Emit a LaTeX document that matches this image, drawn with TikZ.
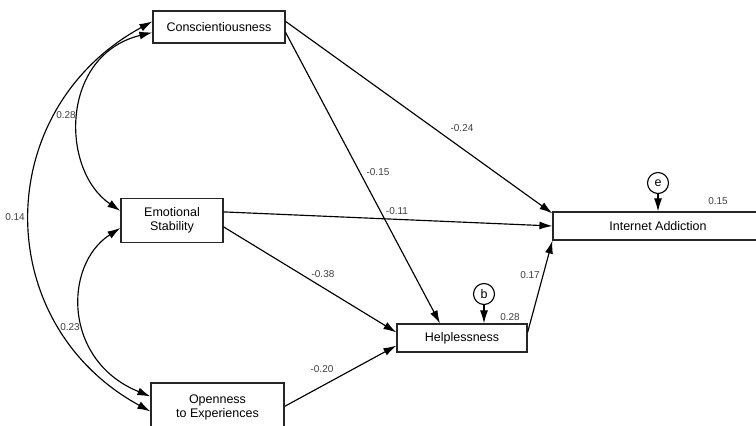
\documentclass[tikz,border=0pt]{standalone}
\usepackage{fontspec}
\setmainfont{Liberation Sans}
\usetikzlibrary{arrows.meta}
\begin{document}
\begin{tikzpicture}[x=1pt,y=1pt,
  box/.style={draw=black!85, line width=1.2pt, fill=white, inner sep=0pt, font=\fontsize{12.5}{14}\selectfont, align=center},
  err/.style={draw, circle, line width=1.1pt, minimum size=21pt, inner sep=0pt, fill=white, font=\fontsize{12.5}{14}\selectfont},
  arr/.style={line width=1.15pt, -{Latex[length=13pt,width=8pt]}},
  dbl/.style={line width=1.15pt, {Latex[length=13pt,width=8pt]}-{Latex[length=13pt,width=8pt]}},
  lab/.style={font=\fontsize{10}{11}\selectfont, text=black!75, inner sep=0pt}]
\useasboundingbox (0,0) rectangle (756,-426);
\clip (0,0) rectangle (756,-426);
\fill[white] (0,0) rectangle (756,-426);

% boxes
\node[box, minimum width=132pt, minimum height=32pt] (C) at (219,-27) {Conscientiousness};
\node[box, minimum width=102pt, minimum height=44pt] (E) at (172,-220.5) {Emotional\\Stability};
\node[box, minimum width=133pt, minimum height=48pt] (O) at (217.5,-407) {Openness\\to Experiences};
\node[box, minimum width=130pt, minimum height=28pt] (H) at (462,-338) {Helplessness};
\node[box, minimum width=210pt, minimum height=28pt] (IA) at (658,-226) {Internet Addiction};
\node[err] (e) at (658,-183) {e};
\node[err] (b) at (484,-294) {b};

% directed paths
\draw[arr] ([yshift=-11pt]C.north east) -- ([yshift=-2pt]IA.north west);
\draw[arr] ([yshift=-22pt]C.north east) -- ([xshift=-22pt]H.north);
\draw[arr] ([yshift=-14pt]E.north east) -- (IA.west);
\draw[arr] ([yshift=-29pt]E.north east) -- ([yshift=-9pt]H.north west);
\draw[arr] ([yshift=-24pt]O.north east) -- ([yshift=7pt]H.south west);
\draw[arr] ([yshift=-9pt]H.north east) -- (IA.south west);
\draw[arr] (e.south) -- (IA.north);
\draw[arr] (b.south) -- (b.south |- H.north);

% covariances
\draw[dbl] ([yshift=-11pt]C.north west) .. controls (-10,-110) and (-10,-324) .. ([yshift=-29pt]O.north west);
\draw[dbl] ([yshift=-22pt]C.north west) .. controls (60,-55) and (60,-170) .. ([yshift=-13pt]E.north west);
\draw[dbl] ([yshift=-30pt]E.north west) .. controls (63,-265) and (63,-361) .. ([yshift=-14pt]O.north west);

% labels
\node[lab] (l1) at (66,-115) {0.28};
\node[lab] (l2) at (15,-217) {0.14};
\node[lab] (l3) at (70,-327) {0.23};
\node[lab] (l4) at (378,-172) {-0.15};
\node[lab] (l5) at (462,-128) {-0.24};
\node[lab] (l6) at (397,-211) {-0.11};
\node[lab] (l7) at (323,-274) {-0.38};
\node[lab] (l8) at (322,-369) {-0.20};
\node[lab] (l9) at (718,-201) {0.15};
\node[lab] (l10) at (510,-317) {0.28};
\node[lab] (l11) at (530,-275) {0.17};
\end{tikzpicture}
\end{document}
